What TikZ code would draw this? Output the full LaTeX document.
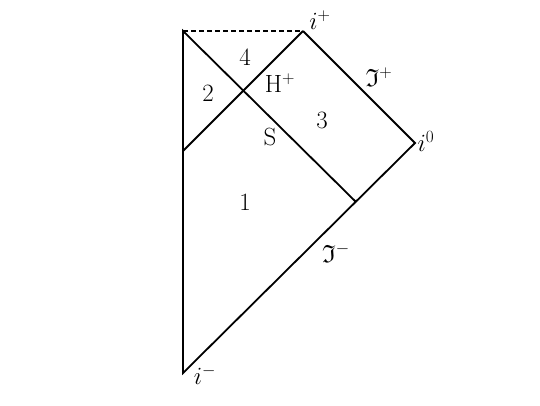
\documentclass[tikz,border=0pt]{standalone}
\usepackage{amssymb}
\usepackage{fontspec}
\begin{document}
\begin{tikzpicture}[x=1bp,y=-1bp,
  edge/.style={line width=1.8bp},
  lbl/.style={font=\fontsize{25}{28}\selectfont, inner sep=0pt}]
\useasboundingbox (0,0) rectangle (540,405);
\coordinate (A) at (183,31);
\coordinate (ip) at (303,31);
\coordinate (io) at (415,143);
\coordinate (im) at (183,373);
\coordinate (L) at (183,151);
\coordinate (B) at (355,201);
\draw[edge, dash pattern=on 5bp off 3bp] (A) -- (ip);
\draw[edge, line join=miter] (ip) -- (io) -- (im) -- (A) -- (B);
\draw[edge] (L) -- (ip);
\node[lbl] (lip) at (320,20) {$i^+$};
\node[lbl] (lio) at (426,141) {$i^0$};
\node[lbl] (lim) at (205,375) {$i^-$};
\node[lbl] (l4) at (245,57) {4};
\node[lbl] (l2) at (208,93) {2};
\node[lbl] (lH) at (280,83) {H$^+$};
\node[lbl] (l3) at (322,120) {3};
\node[lbl] (lS) at (270,137) {S};
\node[lbl] (l1) at (245,202) {1};
\node[lbl] (lsp) at (379,77) {$\mathfrak{I}^+$};
\node[lbl] (lsm) at (336,253) {$\mathfrak{I}^-$};
\end{tikzpicture}
\end{document}
